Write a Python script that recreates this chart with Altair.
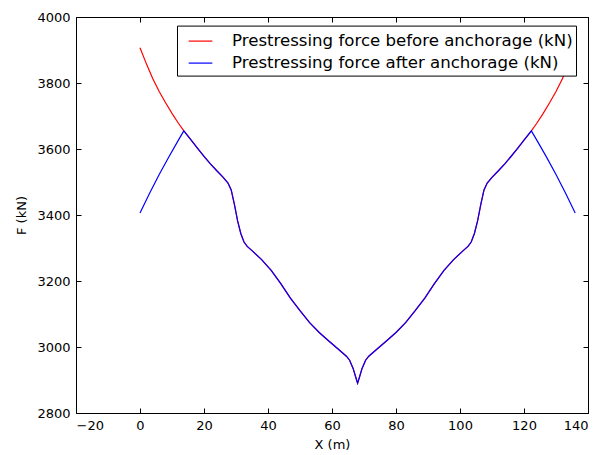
import altair as alt
import pandas as pd

# ---- data ----
red_x = [0, 2, 4, 6, 8, 10, 12, 13.7, 16, 18, 20, 22, 24, 26, 27.5, 28.5, 29.5, 30.5,
         31.5, 32.5, 33.5, 35, 38, 41, 44, 47, 50, 53, 56, 59, 62, 64.5, 65.5, 66.6,
         67.4, 68, 68.6, 69.4, 70.5, 71.5, 74, 77, 80, 83, 86, 89, 92, 95, 98, 101,
         102.5, 103.5, 104.5, 105.5, 106.5, 107.5, 108.5, 110, 112, 114, 116, 118,
         120, 122.3, 124, 126, 128, 130, 132, 134, 136]
red_f = [3907, 3858, 3813, 3774, 3740, 3708, 3678, 3655, 3627, 3602, 3578, 3555, 3534,
         3514, 3497, 3476, 3432, 3382, 3344, 3318, 3305, 3292, 3265, 3232, 3192, 3148,
         3110, 3074, 3044, 3018, 2993, 2972, 2960, 2935, 2909, 2890, 2909, 2935, 2960,
         2972, 2993, 3018, 3044, 3074, 3110, 3148, 3192, 3232, 3265, 3292, 3305, 3318,
         3344, 3382, 3432, 3476, 3497, 3514, 3534, 3555, 3578, 3602, 3627, 3655, 3678,
         3708, 3740, 3774, 3813, 3858, 3907]

blue_rise_x = [0, 3, 6, 9, 12]
blue_rise_f = [3406, 3466, 3523, 3576, 3627]
blue_fall_x = [124, 127, 130, 133, 136]
blue_fall_f = [3627, 3576, 3523, 3466, 3406]

series_names = ["Prestressing force before anchorage (kN)",
                "Prestressing force after anchorage (kN)"]
series_colors = ["#ff0000", "#0000ff"]

x_ticks = [-20, 0, 20, 40, 60, 80, 100, 120, 140]
y_ticks = [2800, 3000, 3200, 3400, 3600, 3800, 4000]

# after-anchorage curve coincides with the before-anchorage one between the two peaks
i0 = red_x.index(13.7)
i1 = red_x.index(122.3)
blue_x = blue_rise_x + red_x[i0:i1 + 1] + blue_fall_x
blue_f = blue_rise_f + red_f[i0:i1 + 1] + blue_fall_f

df = pd.concat([
    pd.DataFrame({"series": series_names[0], "x": red_x, "f": red_f}),
    pd.DataFrame({"series": series_names[1], "x": blue_x, "f": blue_f}),
], ignore_index=True)

FONT = "DejaVu Sans"
xscale = alt.Scale(domain=[-20, 140], nice=False, zero=False)
yscale = alt.Scale(domain=[2800, 4000], nice=False, zero=False)


def tick_axis(orient, values):
    return alt.Axis(orient=orient, values=values, labels=False, title=None,
                    domain=False, grid=False, ticks=True, tickSize=5,
                    offset=-5, tickColor="black", tickWidth=1)


main = alt.Chart(df).mark_line(strokeWidth=1.2, clip=True).encode(
    x=alt.X("x:Q", scale=xscale,
            axis=alt.Axis(orient="bottom", values=x_ticks, title="X (m)", format="d",
                          ticks=False, domain=False, grid=False, labelPadding=6,
                          labelFont=FONT, labelFontSize=13, labelColor="black",
                          titleFont=FONT, titleFontSize=13, titleFontWeight="normal",
                          titleColor="black", titlePadding=6)),
    y=alt.Y("f:Q", scale=yscale,
            axis=alt.Axis(orient="left", values=y_ticks, title="F (kN)", format="d",
                          ticks=False, domain=False, grid=False, labelPadding=6,
                          labelFont=FONT, labelFontSize=13, labelColor="black",
                          titleFont=FONT, titleFontSize=13, titleFontWeight="normal",
                          titleColor="black", titlePadding=8)),
    color=alt.Color("series:N",
                    scale=alt.Scale(domain=series_names, range=series_colors),
                    legend=alt.Legend(title=None, orient="none", legendX=101, legendY=8.6,
                                      symbolType="stroke", symbolSize=560,
                                      symbolStrokeWidth=1.2, symbolOffset=8,
                                      labelFont=FONT, labelFontSize=16.6,
                                      labelColor="black", labelLimit=600,
                                      labelOffset=19, rowPadding=0, padding=3,
                                      strokeColor="black", fillColor="white",
                                      cornerRadius=0)),
)

ticks_bl = alt.Chart(df).mark_line(opacity=0).encode(
    x=alt.X("x:Q", scale=xscale, axis=tick_axis("bottom", x_ticks)),
    y=alt.Y("f:Q", scale=yscale, axis=tick_axis("left", y_ticks)),
)
ticks_tr = alt.Chart(df).mark_line(opacity=0).encode(
    x=alt.X("x:Q", scale=xscale, axis=tick_axis("top", x_ticks)),
    y=alt.Y("f:Q", scale=yscale, axis=tick_axis("right", y_ticks)),
)

chart = alt.layer(main, ticks_bl, ticks_tr).resolve_axis(
    x="independent", y="independent"
).properties(
    width=512, height=396,
    autosize=alt.AutoSizeParams(type="none"),
    padding={"left": 76, "top": 17, "right": 19, "bottom": 42},
    background="white",
).configure_view(stroke="black", strokeWidth=1)

chart.save("out.html", embed_options={"renderer": "svg", "actions": False})
